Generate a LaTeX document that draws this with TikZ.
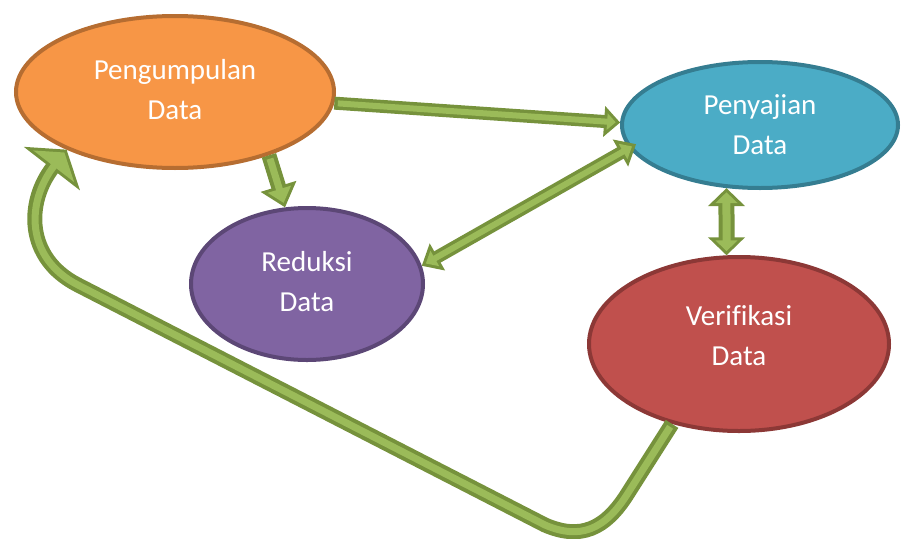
\documentclass[tikz,border=0pt]{standalone}
\usepackage{fontspec}
\setmainfont{Carlito}[Ligatures=NoCommon]
\usetikzlibrary{shapes.geometric, arrows.meta}
\definecolor{orgfill}{HTML}{F79646}
\definecolor{orgline}{HTML}{B66D31}
\definecolor{bluefill}{HTML}{4BACC6}
\definecolor{blueline}{HTML}{357D91}
\definecolor{purpfill}{HTML}{8064A2}
\definecolor{purpline}{HTML}{5C4776}
\definecolor{redfill}{HTML}{C0504D}
\definecolor{redline}{HTML}{8C3836}
\definecolor{grnfill}{HTML}{9BBB59}
\definecolor{grnline}{HTML}{76923C}
\tikzset{
  outline/.style={color=grnline, line width=#1},
  inline/.style={color=grnfill, line width=#1, shorten <=3.5pt},
}

\begin{document}
\begin{tikzpicture}[x=1pt, y=-1pt]
\useasboundingbox (0,0) rectangle (901,538);
%\fill[white] (0,0) rectangle (901,538);
\begin{scope}[every node/.style={ellipse, line width=4pt, inner sep=0pt, text=white, align=center, font=\fontsize{29}{40}\selectfont}]
    \node [draw=orgline, fill=orgfill, minimum width=318pt, minimum height=152pt, text depth=6pt] (P) at (175,92) {Pengumpulan\\Data};
    \node [draw=blueline, fill=bluefill, minimum width=276pt, minimum height=126pt] (S) at (760,125) {Penyajian\\Data};
    \node [draw=purpline, fill=purpfill, minimum width=232pt, minimum height=152pt, text depth=5pt] (R) at (307,284) {Reduksi\\Data};
    \node [draw=redline, fill=redfill, minimum width=300pt, minimum height=174pt, text depth=18pt] (V) at (739,344) {Verifikasi\\Data};
\end{scope}

\begin{scope}
    % pengumpulan -> penyajian
    \path [outline=13pt, -{Triangle[length=16pt, width=30pt]}] (P.-4) edge (S.179);
    \path [inline=6pt, shorten >=4.4pt, -{Triangle[length=8.6pt, width=16.1pt]}] (P.-4) edge (S.179);
    % pengumpulan -> reduksi
    \path [outline=15pt, -{Triangle[length=22pt, width=36pt]}] (P.-34) edge (R.106);
    \path [inline=7pt, shorten >=4.7pt, -{Triangle[length=14.3pt, width=23.4pt]}] (P.-34) edge (R.106);
    % reduksi <-> penyajian
    \path [outline=13pt, shorten >=-8pt, {Triangle[length=18pt, width=30pt]}-{Triangle[length=18pt, width=30pt]}] (R.9) edge (S.190);
    \path [inline=6pt, shorten <=4.7pt, shorten >=-3.3pt, {Triangle[length=10.3pt, width=17.2pt]}-{Triangle[length=10.3pt, width=17.2pt]}] (R.9) edge (S.190);
    % penyajian <-> verifikasi
    \path [outline=16pt, {Triangle[length=18pt, width=36pt]}-{Triangle[length=18pt, width=36pt]}] (S.242) edge (V.98);
    \path [inline=8pt, shorten <=4.2pt, shorten >=4.2pt, {Triangle[length=10.8pt, width=21.6pt]}-{Triangle[length=10.8pt, width=21.6pt]}] (S.242) edge (V.98);
    % verifikasi -> pengumpulan
    \draw [outline=15pt, -{Triangle[length=24pt, width=70pt]}] (V.230) -- (628,493) .. controls (605,530) and (580,540) .. (545,525) -- (78,285) .. controls (25,258) and (26,202) .. (P.208);
    \draw [inline=7pt, shorten >=3.6pt, -{Triangle[length=17.4pt, width=50.8pt]}] (V.230) -- (628,493) .. controls (605,530) and (580,540) .. (545,525) -- (78,285) .. controls (25,258) and (26,202) .. (P.208);
\end{scope}
\end{tikzpicture}
\end{document}
